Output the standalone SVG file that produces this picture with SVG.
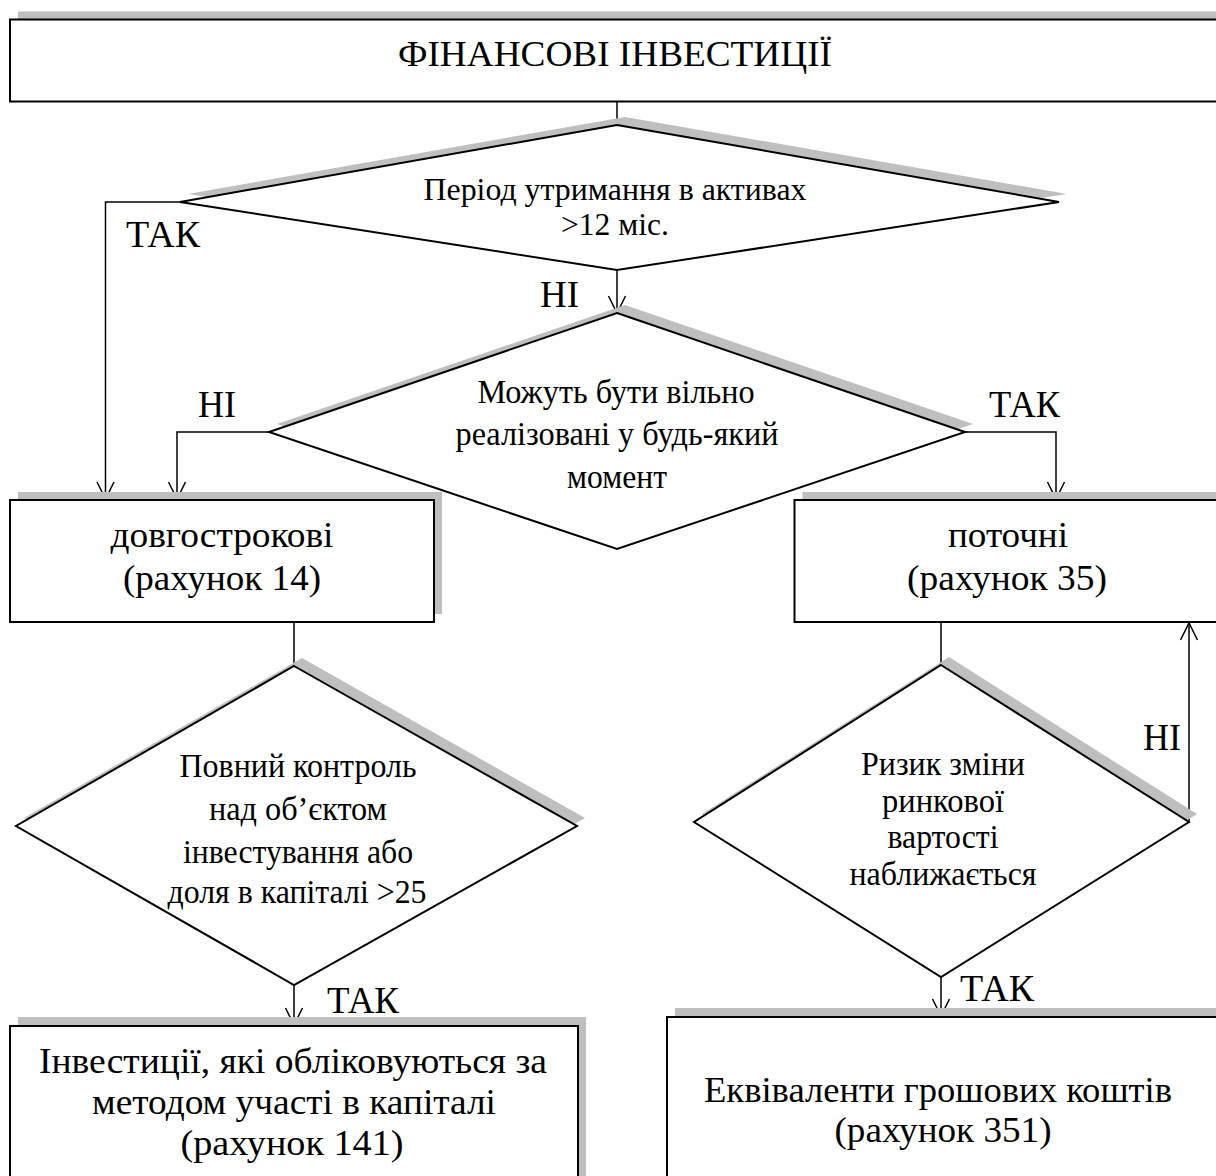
<svg xmlns="http://www.w3.org/2000/svg" width="1216" height="1176" viewBox="0 0 1216 1176" font-family="'Liberation Serif', serif">
<style>
.box{fill:#fff;stroke:#000;stroke-width:2}
.sh{fill:#bfbfbf;stroke:none}
.ln{fill:none;stroke:#000;stroke-width:1.5}
.t{fill:#000;text-anchor:middle}
.lb{fill:#000;font-size:37px}
</style>
<defs>
<marker id="arr" viewBox="-19 -10 21 20" markerWidth="21" markerHeight="20" refX="0" refY="0" orient="auto" markerUnits="userSpaceOnUse">
<path d="M-17,-8.5 L0,0 L-17,8.5" fill="none" stroke="#000" stroke-width="1.5"/>
</marker>
</defs>
<rect width="1216" height="1176" fill="#fff"/>

<g id="connectors">
<line class="ln" x1="617" y1="102" x2="617" y2="125"/>
<polyline class="ln" points="180,202 105.5,202 105.5,499" marker-end="url(#arr)"/>
<line class="ln" x1="617" y1="270" x2="617" y2="313" marker-end="url(#arr)"/>
<polyline class="ln" points="269,432 177,432 177,499" marker-end="url(#arr)"/>
<polyline class="ln" points="965,432 1056,432 1056,499" marker-end="url(#arr)"/>
<line class="ln" x1="294" y1="622" x2="294" y2="666"/>
<line class="ln" x1="294" y1="985" x2="294" y2="1025" marker-end="url(#arr)"/>
<line class="ln" x1="941" y1="622" x2="941" y2="665"/>
<line class="ln" x1="1189" y1="822" x2="1189" y2="623" marker-end="url(#arr)"/>
<line class="ln" x1="941" y1="977" x2="941" y2="1016" marker-end="url(#arr)"/>
<text class="lb" font-family="'Liberation Serif', serif" x="126" y="247" textLength="74" lengthAdjust="spacingAndGlyphs">ТАК</text>
<text class="lb" font-family="'Liberation Serif', serif" x="540" y="307" textLength="39" lengthAdjust="spacingAndGlyphs">НІ</text>
<text class="lb" font-family="'Liberation Serif', serif" x="198" y="417" textLength="38" lengthAdjust="spacingAndGlyphs">НІ</text>
<text class="lb" font-family="'Liberation Serif', serif" x="989" y="417" textLength="71" lengthAdjust="spacingAndGlyphs">ТАК</text>
<text class="lb" font-family="'Liberation Serif', serif" x="327" y="1013" textLength="72" lengthAdjust="spacingAndGlyphs">ТАК</text>
<text class="lb" font-family="'Liberation Serif', serif" x="1143" y="750" textLength="38" lengthAdjust="spacingAndGlyphs">НІ</text>
<text class="lb" font-family="'Liberation Serif', serif" x="960" y="1001" textLength="74" lengthAdjust="spacingAndGlyphs">ТАК</text>
</g>

<g id="n-title">
<rect class="sh" x="18" y="11.5" width="1220" height="82"/>
<rect class="box" x="10" y="19.5" width="1220" height="82"/>
<text class="t" font-family="'Liberation Serif', serif" x="615" y="66" font-size="36" textLength="434" lengthAdjust="spacingAndGlyphs">ФІНАНСОВІ ІНВЕСТИЦІЇ</text>
</g>

<g id="n-d1">
<polygon class="sh" points="625,117 1067,194 625,262 188,194"/>
<polygon class="box" points="617,125 1059,202 617,270 180,202"/>
<text class="t" font-family="'Liberation Serif', serif" x="615" y="200" font-size="31" textLength="383" lengthAdjust="spacingAndGlyphs">Період утримання в активах</text>
<text class="t" font-family="'Liberation Serif', serif" x="615" y="235" font-size="31" textLength="108" lengthAdjust="spacingAndGlyphs">&gt;12 міс.</text>
</g>

<g id="n-d2">
<polygon class="sh" points="625,305 973,424 625,541 277,424"/>
<polygon class="box" points="617,313 965,432 617,549 269,432"/>
<text class="t" font-family="'Liberation Serif', serif" x="616" y="403" font-size="33" textLength="277" lengthAdjust="spacingAndGlyphs">Можуть бути вільно</text>
<text class="t" font-family="'Liberation Serif', serif" x="617" y="445" font-size="33" textLength="323" lengthAdjust="spacingAndGlyphs">реалізовані у будь-який</text>
<text class="t" font-family="'Liberation Serif', serif" x="617" y="488" font-size="33" textLength="100" lengthAdjust="spacingAndGlyphs">момент</text>
</g>

<g id="n-long">
<rect class="sh" x="18" y="492" width="424" height="122"/>
<rect class="box" x="10" y="500" width="424" height="122"/>
<text class="t" font-family="'Liberation Serif', serif" x="222" y="547" font-size="35" textLength="223" lengthAdjust="spacingAndGlyphs">довгострокові</text>
<text class="t" font-family="'Liberation Serif', serif" x="222" y="590" font-size="35" textLength="198" lengthAdjust="spacingAndGlyphs">(рахунок 14)</text>
</g>

<g id="n-cur">
<rect class="sh" x="802.5" y="492" width="500" height="122"/>
<rect class="box" x="794.5" y="500" width="500" height="122"/>
<text class="t" font-family="'Liberation Serif', serif" x="1008" y="547" font-size="35" textLength="120" lengthAdjust="spacingAndGlyphs">поточні</text>
<text class="t" font-family="'Liberation Serif', serif" x="1007" y="590" font-size="35" textLength="200" lengthAdjust="spacingAndGlyphs">(рахунок 35)</text>
</g>

<g id="n-d3">
<polygon class="sh" points="302,658 585,818 302,977 24,818"/>
<polygon class="box" points="294,666 577,826 294,985 16,826"/>
<text class="t" font-family="'Liberation Serif', serif" x="298" y="777" font-size="33" textLength="237" lengthAdjust="spacingAndGlyphs">Повний контроль</text>
<text class="t" font-family="'Liberation Serif', serif" x="298" y="820" font-size="33" textLength="178" lengthAdjust="spacingAndGlyphs">над об’єктом</text>
<text class="t" font-family="'Liberation Serif', serif" x="298" y="863" font-size="33" textLength="230" lengthAdjust="spacingAndGlyphs">інвестування або</text>
<text class="t" font-family="'Liberation Serif', serif" x="297" y="903" font-size="33" textLength="259" lengthAdjust="spacingAndGlyphs">доля в капіталі &gt;25</text>
</g>

<g id="n-d4">
<polygon class="sh" points="949,657 1197,814 949,969 702,814"/>
<polygon class="box" points="941,665 1189,822 941,977 694,822"/>
<text class="t" font-family="'Liberation Serif', serif" x="943" y="775" font-size="33" textLength="164" lengthAdjust="spacingAndGlyphs">Ризик зміни</text>
<text class="t" font-family="'Liberation Serif', serif" x="943" y="812" font-size="33" textLength="122" lengthAdjust="spacingAndGlyphs">ринкової</text>
<text class="t" font-family="'Liberation Serif', serif" x="943" y="848" font-size="33" textLength="111" lengthAdjust="spacingAndGlyphs">вартості</text>
<text class="t" font-family="'Liberation Serif', serif" x="943" y="885" font-size="33" textLength="187" lengthAdjust="spacingAndGlyphs">наближається</text>
</g>

<g id="n-equity">
<rect class="sh" x="18" y="1017" width="568" height="200"/>
<rect class="box" x="10" y="1026" width="568" height="200"/>
<text class="t" font-family="'Liberation Serif', serif" x="293" y="1073" font-size="36" textLength="508" lengthAdjust="spacingAndGlyphs">Інвестиції, які обліковуються за</text>
<text class="t" font-family="'Liberation Serif', serif" x="294" y="1114" font-size="36" textLength="404" lengthAdjust="spacingAndGlyphs">методом участі в капіталі</text>
<text class="t" font-family="'Liberation Serif', serif" x="292" y="1155" font-size="36" textLength="223" lengthAdjust="spacingAndGlyphs">(рахунок 141)</text>
</g>

<g id="n-cash">
<rect class="sh" x="675" y="1008" width="600" height="200"/>
<rect class="box" x="667" y="1017" width="600" height="200"/>
<text class="t" font-family="'Liberation Serif', serif" x="938" y="1102" font-size="36" textLength="468" lengthAdjust="spacingAndGlyphs">Еквіваленти грошових коштів</text>
<text class="t" font-family="'Liberation Serif', serif" x="943" y="1142" font-size="36" textLength="217" lengthAdjust="spacingAndGlyphs">(рахунок 351)</text>
</g>
</svg>
